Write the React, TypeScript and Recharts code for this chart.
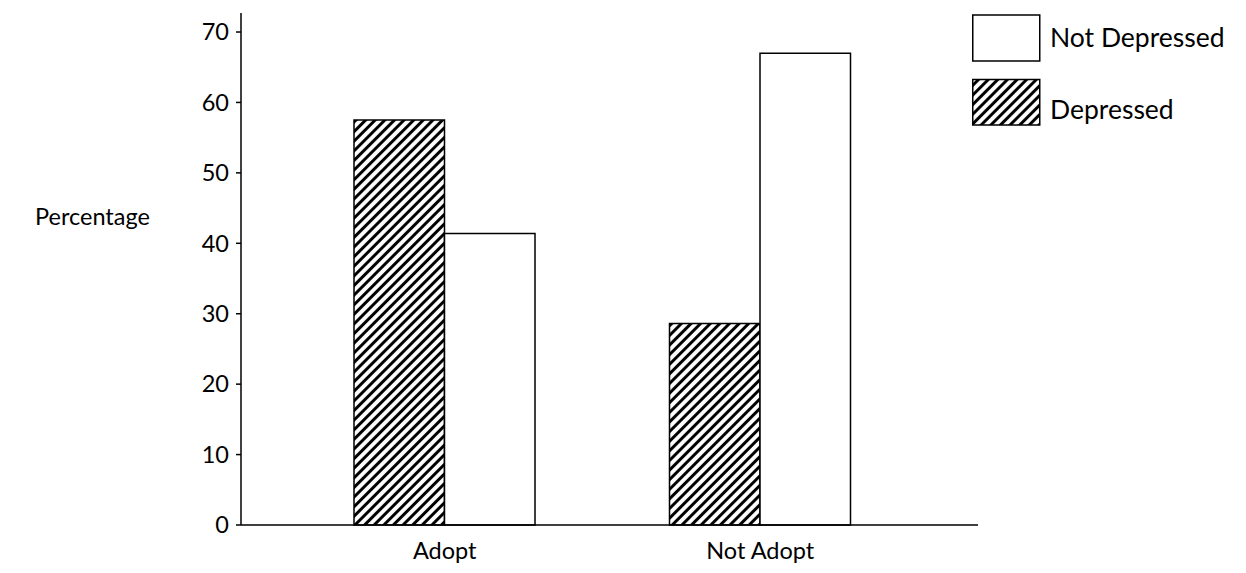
import React from 'react';
import { BarChart, Bar, XAxis, YAxis, Legend, Label } from 'recharts';

const categories = ['Adopt', 'Not Adopt'];
const depressed = [57.5, 28.6];
const notDepressed = [41.4, 67.0];
const yTicks = [0, 10, 20, 30, 40, 50, 60, 70];
const legendLabels = ['Not Depressed', 'Depressed'];

const data = categories.map((c, i) => ({ name: c, depressed: depressed[i], notDepressed: notDepressed[i] }));

const FONT = 'Lato, "Noto Sans", sans-serif';
const FS = 23.5;
const LFS = 26.5;

const LegendContent = () => (
  <svg width={270} height={120} style={{ overflow: 'visible' }}>
    <rect x={0.75} y={1} width={67} height={46} fill="#fff" stroke="#000" strokeWidth={1.5} />
    <text x={78} y={33} fill="#000" fontSize={LFS} fontFamily={FONT}>{legendLabels[0]}</text>
    <rect x={0.75} y={65.5} width={67} height={45.5} fill="url(#hatch)" stroke="#000" strokeWidth={1.5} />
    <text x={78} y={105} fill="#000" fontSize={LFS} fontFamily={FONT}>{legendLabels[1]}</text>
  </svg>
);

export default function App() {
  return (
    <div style={{ margin: -8, width: 1246, height: 573, background: '#fff' }}>
      <BarChart
        width={1246}
        height={573}
        data={data}
        margin={{ top: 13, right: 268, bottom: 8, left: 181 }}
        barGap={0}
        barSize={90.5}
      >
        <defs>
          <pattern id="hatch" patternUnits="userSpaceOnUse" width={6.8} height={6.8} patternTransform="rotate(45)">
            <rect x={0} y={0} width={6.8} height={6.8} fill="#fff" />
            <line x1={3.4} y1={-1} x2={3.4} y2={7.8} stroke="#000" strokeWidth={3} />
          </pattern>
        </defs>
        <XAxis
          dataKey="name"
          height={40}
          padding={{ left: 46, right: 60 }}
          tickLine={false}
          axisLine={{ stroke: '#000', strokeWidth: 1.5 }}
          tickSize={6}
          tickMargin={11}
          tick={{ fill: '#000', fontSize: FS, fontFamily: FONT }}
        />
        <YAxis
          width={60}
          domain={[0, 72.7]}
          ticks={yTicks}
          interval={0}
          axisLine={{ stroke: '#000', strokeWidth: 1.5 }}
          tickLine={{ stroke: '#000', strokeWidth: 1.5 }}
          tickSize={5}
          tickMargin={7}
          tick={{ fill: '#000', fontSize: FS, fontFamily: FONT }}
        >
          <Label
            content={() => (
              <text x={35} y={225} fill="#000" fontSize={FS} fontFamily={FONT}>
                Percentage
              </text>
            )}
          />
        </YAxis>
        <Legend
          layout="horizontal"
          verticalAlign="middle"
          align="center"
          content={<LegendContent />}
          wrapperStyle={{ position: 'absolute', left: 972, top: 14, width: 270, height: 120 }}
        />
        <Bar dataKey="depressed" fill="url(#hatch)" stroke="#000" strokeWidth={1.5} isAnimationActive={false} />
        <Bar dataKey="notDepressed" fill="#fff" stroke="#000" strokeWidth={1.5} isAnimationActive={false} />
      </BarChart>
    </div>
  );
}
